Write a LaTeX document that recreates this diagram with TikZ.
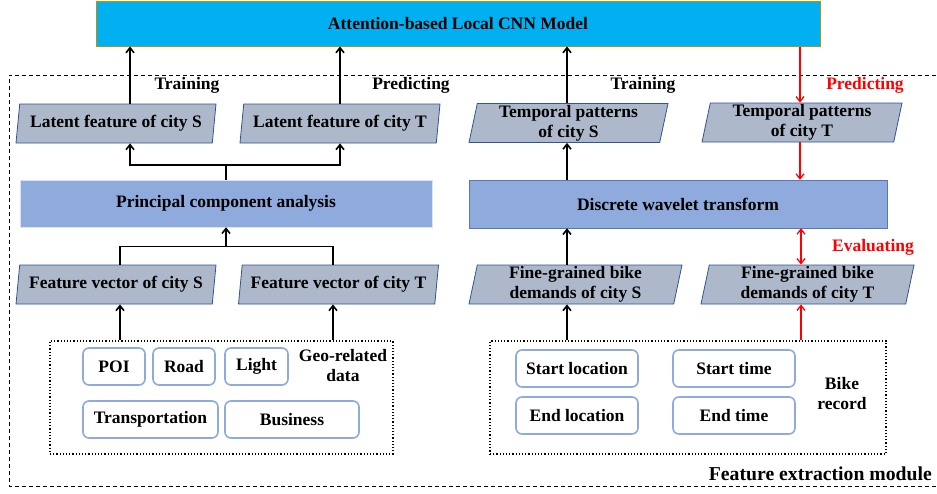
\documentclass[tikz,border=0pt]{standalone}
\usepackage{fontspec}
\setmainfont{Liberation Serif}
\usepackage{tikz}
\usepackage{xcolor}
\usetikzlibrary{shapes.geometric,arrows.meta}
\definecolor{cnnblue}{RGB}{0,176,240}
\definecolor{cnngold}{RGB}{191,144,0}
\definecolor{dataslate}{RGB}{173,185,202}
\definecolor{dataedge}{RGB}{47,85,151}
\definecolor{procblue}{RGB}{143,170,220}
\definecolor{procedge}{RGB}{90,120,180}
\definecolor{procpale}{RGB}{218,227,243}
\definecolor{itemedge}{RGB}{143,170,220}
\definecolor{flowred}{RGB}{255,0,0}

\tikzset{
    every node/.style={font=\bfseries\fontsize{17.5}{20}\selectfont, inner sep=0pt},
    databox/.style={trapezium, trapezium left angle=77, trapezium right angle=103,
        trapezium stretches body, draw=dataedge, line width=0.8pt, fill=dataslate,
        minimum height=39, align=center},
    procbox/.style={rectangle, fill=procblue, minimum height=47},
    itembox/.style={rectangle, rounded corners=6pt, draw=itemedge, line width=1.6pt,
        fill=white, minimum height=37},
    groupbox/.style={rectangle, draw, dotted, line width=1.2pt, minimum height=113},
    arr/.style={-{Straight Barb[length=5pt,width=8pt]}, line width=1.6pt},
    redarr/.style={-{Straight Barb[length=5pt,width=8pt]}, line width=1.3pt, flowred},
}

\begin{document}
\begin{tikzpicture}[x=1pt, y=-1pt]
    \useasboundingbox (0,0) rectangle (937,493);

    % Model
    \node[rectangle, fill=cnnblue, draw=cnngold, line width=1pt,
        minimum width=724, minimum height=45] (cnn) at (458,23.5) {Attention-based Local CNN Model};

    % Module frame
    \draw[dash pattern=on 4pt off 3pt, line width=0.8pt] (936,75) -- (9,75) -- (9,486) -- (936,486);
    \node[anchor=east, font=\bfseries\fontsize{19.7}{22}\selectfont] (modlabel) at (932,474) {Feature extraction module};

    % Geo side
    \node[databox, minimum width=200] (latS) at (116,123.5) {Latent feature of city S};
    \node[databox, minimum width=200] (latT) at (340,123.5) {Latent feature of city T};
    \node[procbox, draw=procpale, minimum width=412] (pca) at (226,203.5) {Principal component analysis};
    \node[databox, minimum width=200] (featS) at (116,284.5) {Feature vector of city S};
    \node[databox, minimum width=200] (featT) at (338.5,284.5) {Feature vector of city T};

    \node[groupbox, minimum width=343] (geo) at (221.5,397.5) {};
    \node[itembox, minimum width=62] (poi) at (114,366.5) {POI};
    \node[itembox, minimum width=62] (road) at (184,366.5) {Road};
    \node[itembox, minimum width=63] (light) at (256.5,366.5) {Light};
    \node[itembox, minimum width=135] (trans) at (150.5,419.5) {Transportation};
    \node[itembox, minimum width=134] (biz) at (292,419.5) {Business};
    \node[align=center] (geolabel) at (343,366) {Geo-related\\data};

    \node (trainL) at (187,85) {Training};
    \node (predL) at (411,85) {Predicting};

    % Bike side
    \node[databox, minimum width=199] (tempS) at (568.5,123) {Temporal patterns\\of city S};
    \node[databox, minimum width=200] (tempT) at (802,122.5) {Temporal patterns\\of city T};
    \node[procbox, draw=procedge, minimum width=418, minimum height=48] (dwt) at (678,204) {Discrete wavelet transform};
    \node[databox, minimum width=213] (fineS) at (575.5,284.5) {Fine-grained bike\\demands of city S};
    \node[databox, minimum width=213] (fineT) at (807.5,284.5) {Fine-grained bike\\demands of city T};

    \node[groupbox, minimum width=396] (bike) at (688,397.5) {};
    \node[itembox, minimum width=122] (sloc) at (577,368.5) {Start location};
    \node[itembox, minimum width=122] (eloc) at (577,415.5) {End location};
    \node[itembox, minimum width=122] (stime) at (734,368.5) {Start time};
    \node[itembox, minimum width=122] (etime) at (734,415.5) {End time};
    \node[align=center] (bikelabel) at (842,394) {Bike\\record};

    \node (trainR) at (643,85) {Training};
    \node[text=flowred] (predR) at (865,85) {Predicting};
    \node[text=flowred] (evalR) at (873,247) {Evaluating};

    % Geo flow
    \draw[arr] (latS.north -| 130,0) -- (cnn.south -| 130,0);
    \draw[arr] (latT.north) -- (cnn.south -| latT.north);
    \draw[arr] (pca.north) -- ++(0,-15) -| (latS.south -| 130,0);
    \draw[arr] (pca.north) -- ++(0,-15) -| (latT.south);
    \draw[line width=1.6pt] (featS.north -| 120,0) -- ++(0,-18) -| (featT.north -| 333,0);
    \draw[arr] (pca.south |- 0,247) -- (pca.south);
    \draw[arr] (geo.north -| 120,0) -- (featS.south -| 120,0);
    \draw[arr] (geo.north -| 333,0) -- (featT.south -| 333,0);

    % Bike flow
    \draw[arr] (tempS.north -| 567,0) -- (cnn.south -| 567,0);
    \draw[arr] (dwt.north -| 567,0) -- (tempS.south -| 567,0);
    \draw[arr] (fineS.north -| 567,0) -- (dwt.south -| 567,0);
    \draw[arr] (bike.north -| 567,0) -- (fineS.south -| 567,0);
    \draw[redarr] (cnn.south -| 800,0) -- (tempT.north -| 800,0);
    \draw[redarr] (tempT.south -| 800,0) -- (dwt.north -| 800,0);
    \draw[redarr, {Straight Barb[length=5pt,width=8pt]}-{Straight Barb[length=5pt,width=8pt]}] (dwt.south -| 801,0) -- (fineT.north -| 801,0);
    \draw[redarr] (bike.north -| 801,0) -- (fineT.south -| 801,0);
\end{tikzpicture}
\end{document}
